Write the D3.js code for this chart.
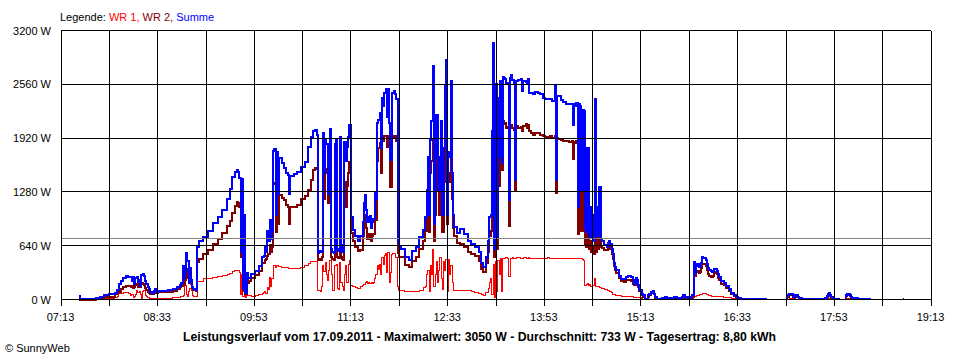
<!DOCTYPE html>
<html><head><meta charset="utf-8">
<script src="https://cdn.jsdelivr.net/npm/d3@7"></script>
<style>
body{margin:0;background:#fff}
svg{display:block}
text{font-family:"Liberation Sans",Arial,sans-serif;}
</style>
</head><body><svg id="c" width="960" height="360"></svg>
<script>
// ---------- data ----------
const times = [
"07:28","07:29","07:39","07:42","07:46","07:49","07:53","07:55","07:58","08:00",
"08:01","08:03","08:05","08:07","08:09","08:11","08:12","08:13","08:14","08:15",
"08:16","08:17","08:18","08:19","08:20","08:21","08:22","08:23","08:24","08:25",
"08:26","08:27","08:29","08:30","08:31","08:32","08:34","08:38","08:42","08:46",
"08:49","08:52","08:53","08:54","08:55","08:56","08:57","08:58","08:59","09:00",
"09:01","09:02","09:03","09:05","09:06","09:08","09:11","09:15","09:19","09:23",
"09:27","09:31","09:33","09:35","09:37","09:39","09:40","09:41","09:42","09:43",
"09:44","09:45","09:46","09:47","09:48","09:49","09:51","09:54","09:57","10:00",
"10:01","10:02","10:03","10:04","10:05","10:06","10:07","10:08","10:09","10:10",
"10:11","10:12","10:13","10:14","10:16","10:18","10:20","10:21","10:22","10:23",
"10:26","10:29","10:32","10:35","10:38","10:40","10:42","10:44","10:45","10:46",
"10:47","10:48","10:49","10:50","10:51","10:52","10:53","10:54","10:55","10:56",
"10:57","10:58","10:59","11:00","11:01","11:02","11:03","11:04","11:05","11:06",
"11:07","11:08","11:09","11:10","11:11","11:12","11:13","11:15","11:17","11:19",
"11:21","11:23","11:24","11:25","11:26","11:27","11:28","11:29","11:30","11:31",
"11:32","11:33","11:34","11:35","11:36","11:37","11:38","11:39","11:40","11:41",
"11:42","11:43","11:44","11:45","11:46","11:47","11:48","11:49","11:50","11:51",
"11:52","11:53","11:55","11:58","12:01","12:04","12:07","12:10","12:13","12:15",
"12:16","12:17","12:18","12:19","12:20","12:21","12:22","12:23","12:24","12:25",
"12:26","12:27","12:28","12:29","12:30","12:31","12:32","12:33","12:34","12:35",
"12:36","12:37","12:38","12:39","12:41","12:44","12:47","12:50","12:53","12:56",
"12:59","13:01","13:03","13:05","13:07","13:08","13:09","13:10","13:11","13:12",
"13:13","13:14","13:15","13:16","13:17","13:18","13:19","13:20","13:21","13:22",
"13:23","13:24","13:25","13:26","13:27","13:28","13:29","13:30","13:32","13:34",
"13:35","13:36","13:38","13:39","13:40","13:41","13:42","13:44","13:46","13:48",
"13:50","13:52","13:54","13:56","13:58","14:00","14:01","14:02","14:03","14:04",
"14:05","14:07","14:09","14:11","14:14","14:16","14:17","14:18","14:19","14:20",
"14:21","14:22","14:23","14:24","14:25","14:26","14:27","14:28","14:29","14:30",
"14:31","14:32","14:33","14:34","14:35","14:36","14:37","14:38","14:39","14:40",
"14:41","14:43","14:45","14:46","14:47","14:48","14:49","14:50","14:51","14:52",
"14:53","14:55","14:57","14:59","15:01","15:03","15:05","15:07","15:08","15:09",
"15:10","15:11","15:12","15:14","15:15","15:17","15:19","15:20","15:22","15:23",
"15:24","15:25","15:27","15:29","15:31","15:33","15:35","15:37","15:39","15:41",
"15:43","15:45","15:47","15:48","15:50","15:52","15:54","15:55","15:56","15:57",
"15:58","15:59","16:00","16:01","16:02","16:03","16:04","16:05","16:06","16:07",
"16:08","16:09","16:10","16:11","16:12","16:13","16:14","16:15","16:16","16:17",
"16:18","16:20","16:22","16:24","16:26","16:28","16:30","16:32","16:34","16:36",
"16:39","16:43","16:48","16:53","16:57","16:58","17:13","17:14","17:16","17:18",
"17:19","17:20","17:21","17:23","17:24","17:27","17:31","17:35","17:39","17:43",
"17:46","17:47","17:48","17:49","17:50","17:51","17:52","17:55","17:58","17:59",
"18:02","18:03","18:04","18:05","18:06","18:07","18:08","18:13","18:18","18:24",
"18:25","18:50","18:51"
];
const wr1 = [
0,0,0,0,0,6,6,12,20,30,
70,75,80,78,72,48,55,25,30,60,
107,80,90,60,5,100,110,50,30,24,
20,12,8,10,8,8,10,12,15,20,
24,30,40,40,45,167,60,40,90,130,
110,50,36,30,210,215,245,255,263,270,
285,300,310,330,345,350,340,320,60,300,
30,200,20,80,50,48,40,48,60,70,
80,100,70,140,120,260,150,250,400,400,
380,400,390,390,385,380,375,375,370,370,
365,370,375,405,430,450,455,455,450,107,
110,100,150,400,330,440,300,230,350,460,
300,110,110,400,420,130,120,440,200,150,
110,300,400,200,420,460,170,150,140,135,
160,170,180,200,210,190,200,190,200,190,
200,250,300,400,360,420,300,500,420,520,
550,320,560,200,320,530,550,550,500,500,
150,110,110,90,90,95,100,110,140,160,
300,350,100,400,300,590,150,300,450,200,
350,500,250,120,450,350,480,100,480,300,
400,200,110,107,110,110,110,107,95,80,
70,60,48,80,130,200,250,60,420,20,
450,100,460,300,490,100,490,490,495,495,
490,270,490,490,495,490,490,495,495,490,
485,495,495,490,495,490,490,490,488,490,
490,490,490,495,490,490,490,485,490,490,
490,490,490,490,490,490,485,490,490,490,
490,490,490,485,470,460,170,180,190,170,
180,160,170,170,250,160,160,160,140,140,
130,120,115,110,100,90,80,60,55,50,
48,44,40,38,36,32,30,28,28,26,
25,24,20,10,5,0,0,0,0,0,
0,0,0,0,0,0,0,0,0,0,
0,0,0,0,0,0,0,0,0,28,
40,48,48,50,55,60,68,68,68,68,
60,50,48,45,40,36,36,36,36,36,
36,32,28,24,18,10,8,4,0,0,
0,0,0,0,0,null,0,5,10,10,
5,5,5,2,0,0,0,0,0,0,
0,5,8,8,5,2,0,0,0,null,
0,5,8,8,5,2,0,0,0,0,
null,null,null
];
const wr2 = [
0,0,0,6,20,30,30,35,60,75,
95,130,150,165,165,150,155,140,150,175,
190,150,170,150,200,185,170,140,110,95,
80,70,65,95,75,80,85,90,95,105,
130,145,160,180,170,230,360,250,200,260,
190,135,110,105,450,480,545,590,665,715,
790,880,935,1025,1110,1160,1150,1100,500,1000,
100,700,60,240,200,215,255,290,335,430,
440,470,480,520,540,650,560,620,1370,1380,
800,1300,900,1240,1210,1180,1130,1100,900,1100,
1100,1130,1200,1230,1300,1420,1540,1560,1550,470,
480,470,500,1560,1200,1550,1500,1150,1300,1540,
500,480,470,1450,1480,500,490,1500,500,480,
470,1400,1100,1350,1500,1630,790,700,620,580,
590,760,950,1000,850,720,780,780,700,760,
780,1000,940,1650,1800,1860,1500,1900,1880,1940,
1950,1820,1940,1900,1340,1930,1930,1940,1940,1880,
550,510,500,410,390,460,500,600,700,810,
1000,1200,800,1500,1650,1900,700,1000,1800,1300,
1000,1350,1700,800,1400,1950,1880,900,1500,1400,
1900,1200,850,750,670,660,620,560,540,520,
460,360,330,430,560,750,820,1900,2020,500,
2100,600,1800,1350,2120,1540,2120,2090,2100,2040,
2050,870,2070,2080,2040,2020,1300,2060,2040,2050,
2000,2060,2090,2040,2070,2000,1980,1960,1980,1980,
1960,1950,1920,1930,1940,1920,1920,1940,1270,1920,
1910,1900,1890,1890,1870,1880,1670,1870,1860,1880,
780,1860,1850,810,1830,1780,660,620,1300,600,
700,560,620,540,1500,560,880,600,750,620,
610,590,590,610,625,600,540,486,400,350,
310,250,215,210,227,235,225,190,167,227,
200,150,100,50,28,5,35,55,75,80,
60,20,5,2,10,15,10,5,10,15,
10,5,15,30,20,5,2,20,30,386,
280,326,340,320,330,380,420,425,420,400,
350,300,285,270,265,280,310,326,300,260,
227,190,167,139,100,60,40,16,5,5,
3,2,2,2,2,null,10,35,55,50,
28,20,35,28,8,2,2,2,2,2,
10,30,45,50,40,20,5,2,2,null,
15,40,55,50,40,20,5,2,2,2,
null,null,null
];
const summe = [
36,8,8,20,30,48,60,60,75,110,
180,215,260,275,270,265,225,265,190,250,
265,210,230,165,290,300,280,225,180,150,
120,85,75,107,130,95,100,100,115,130,
150,170,200,400,260,330,550,460,210,380,
230,150,120,115,630,700,745,810,915,985,
1070,1190,1320,1460,1520,1535,1520,1440,560,1430,
130,1000,80,320,250,260,300,335,400,510,
520,640,560,820,700,950,720,820,1770,1790,
1000,1750,1250,1680,1620,1570,1500,1480,1260,1470,
1490,1520,1580,1630,1810,1930,2010,2020,1960,550,
580,560,580,1980,1500,1900,1850,1250,1700,2030,
600,560,550,1850,1900,600,580,1930,650,570,
560,1870,1650,1820,1930,2080,980,830,760,700,
750,920,1150,1240,1060,920,980,990,850,920,
960,1280,1200,2100,2140,2220,1800,2400,2300,2460,
2500,2170,2500,2100,1660,2460,2460,2480,2440,2380,
700,640,600,500,470,575,620,740,830,980,
1300,1700,1000,1900,2120,2780,900,1300,2200,1700,
1300,1650,2120,1000,1800,2540,2850,1000,1750,1700,
2600,1500,1000,860,790,840,780,700,660,620,
560,430,390,510,700,980,1000,2000,3050,600,
2560,730,2400,1700,2600,1620,2650,2640,2620,2580,
2560,1180,2640,2670,2610,2580,1420,2600,2610,2620,
2480,2600,2590,2570,2620,2460,2460,2450,2470,2460,
2440,2400,2380,2390,2390,2360,2360,2540,1420,2420,
2420,2370,2350,2330,2320,2330,2070,2320,2300,2340,
1100,2320,2300,1290,2260,2240,850,800,1800,760,
1100,730,1000,700,2380,760,1100,760,1340,720,
690,650,630,670,690,660,600,545,440,390,
350,280,245,240,267,285,270,230,187,259,
230,167,115,70,48,5,50,68,95,99,
70,28,10,5,20,28,20,12,20,28,
20,12,30,48,28,10,5,30,48,446,
310,400,420,390,400,440,500,495,490,470,
420,370,346,335,330,340,360,366,340,300,
267,225,195,165,120,80,55,28,15,10,
8,10,8,10,8,null,12,48,68,60,
35,28,48,35,12,6,8,6,8,6,
15,40,68,72,55,30,10,6,6,null,
25,55,68,66,50,28,12,8,6,8,
null,8,8
];
const yTicks = [0, 640, 1280, 1920, 2560, 3200];
const xTickLabels = ["07:13","08:33","09:53","11:13","12:33","13:53","15:13","16:33","17:53","19:13"];
const gridTimes = ["07:13","07:53","08:33","09:13","09:53","10:33","11:13","11:53","12:33","13:13",
                   "13:53","14:33","15:13","15:53","16:33","17:13","17:53","18:33","19:13"];
const average = 733;
const titleText = "Leistungsverlauf vom 17.09.2011 - Maximalwert: 3050 W - Durchschnitt: 733 W - Tagesertrag: 8,80 kWh";
const seriesNames = ["WR 1", "WR 2", "Summe"];
const seriesColors = ["#ff0000", "#800000", "#0000ff"];

// ---------- drawing ----------
const toMin = s => { const p = s.split(":").map(Number); return p[0]*60 + p[1]; };
const svg = d3.select("#c");
const x = d3.scaleLinear().domain([toMin("07:13"), toMin("19:13")]).range([60.5, 930.5]);
const y = d3.scaleLinear().domain([0, 3200]).range([299.5, 30.5]);

const seriesData = [wr1, wr2, summe];
const widths = [1, 2, 2];
const gLines = svg.append("g");
seriesData.forEach((vals, k) => {
  const pts = times.map((t, i) => ({ t: toMin(t), v: vals[i] }));
  const line = d3.line()
    .defined(d => d.v !== null && d.v !== undefined)
    .x(d => x(d.t)).y(d => y(d.v))
    .curve(d3.curveStepAfter);
  gLines.append("path").datum(pts)
    .attr("d", line)
    .attr("fill", "none")
    .attr("stroke", seriesColors[k])
    .attr("stroke-width", widths[k])
    .attr("shape-rendering", "crispEdges");
});

// average line
svg.append("line")
  .attr("x1", x.range()[0]).attr("x2", x.range()[1])
  .attr("y1", Math.round(y(average)) + 0.5).attr("y2", Math.round(y(average)) + 0.5)
  .attr("stroke", "#808080").attr("stroke-width", 1).attr("shape-rendering", "crispEdges");

// grid
const grid = svg.append("g").attr("shape-rendering", "crispEdges");
grid.selectAll("line.h").data(yTicks).join("line")
  .attr("x1", x.range()[0]).attr("x2", x.range()[1])
  .attr("y1", d => y(d)).attr("y2", d => y(d))
  .attr("stroke", "#000");
grid.selectAll("line.v").data(gridTimes).join("line")
  .attr("x1", d => Math.round(x(toMin(d))) + 0.5).attr("x2", d => Math.round(x(toMin(d))) + 0.5)
  .attr("y1", y(3200)).attr("y2", 306)
  .attr("stroke", "#000");

// y labels
svg.append("g").selectAll("text").data(yTicks).join("text")
  .attr("x", 51).attr("y", d => y(d) + 4)
  .attr("text-anchor", "end").attr("font-size", 11).attr("fill", "#000")
  .text(d => d + " W");

// x labels
svg.append("g").selectAll("text").data(xTickLabels).join("text")
  .attr("x", d => x(toMin(d))).attr("y", 321)
  .attr("text-anchor", "middle").attr("font-size", 11).attr("fill", "#000")
  .text(d => d);

// legend
const leg = svg.append("text").attr("x", 60).attr("y", 21).attr("font-size", 11);
leg.append("tspan").attr("fill", "#000").text("Legende: ");
seriesNames.forEach((n, k) => {
  leg.append("tspan").attr("fill", seriesColors[k]).text(n + (k < seriesNames.length - 1 ? ", " : ""));
});

// title
svg.append("text").attr("x", 479.5).attr("y", 341)
  .attr("text-anchor", "middle").attr("font-size", 12).attr("font-weight", "bold")
  .attr("textLength", 593).attr("lengthAdjust", "spacingAndGlyphs")
  .text(titleText);

// copyright
svg.append("text").attr("x", 5).attr("y", 352).attr("font-size", 11).text("\u00A9 SunnyWeb");
</script>
</body></html>
